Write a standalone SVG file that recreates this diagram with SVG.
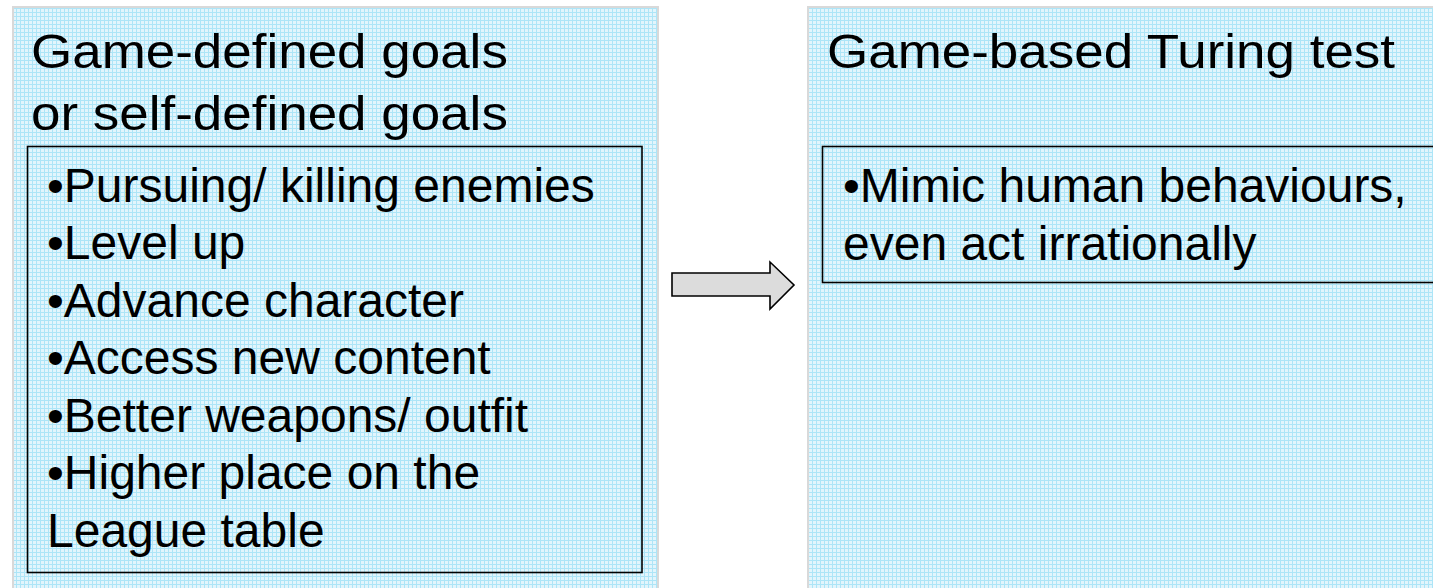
<svg xmlns="http://www.w3.org/2000/svg" width="1433" height="588" viewBox="0 0 1433 588">
<defs>
<pattern id="grid" patternUnits="userSpaceOnUse" x="0" y="0" width="4" height="4">
<rect width="4" height="4" fill="#e2f5fc"/>
<rect width="1" height="4" fill="#ade5f7"/>
<rect width="4" height="1" fill="#ade5f7"/>
</pattern>
<style>
.panel{fill:url(#grid);stroke:#d9d9d9;stroke-width:2}
.box{fill:none;stroke:#000;stroke-width:1.6}
.t{font-family:"Liberation Sans",Arial,sans-serif;fill:#000}
.title{font-size:47.5px}
.b{font-size:48px}
.arrow{fill:#dcdcdc;stroke:#000;stroke-width:1.6;stroke-linejoin:miter}
</style>
</defs>
<rect width="1433" height="588" fill="#fff"/>
<g id="left-panel">
<rect class="panel" x="13" y="7" width="645" height="590"/>
<text class="t title" transform="translate(31,68) scale(1.115,1)">Game-defined goals</text>
<text class="t title" transform="translate(31,130) scale(1.115,1)">or self-defined goals</text>
<rect class="box" x="27.5" y="146.5" width="614.5" height="426"/>
<text class="t b" x="47" y="201.7">•Pursuing/ killing enemies</text>
<text class="t b" x="47" y="259.2">•Level up</text>
<text class="t b" x="47" y="316.7">•Advance character</text>
<text class="t b" x="47" y="374.2">•Access new content</text>
<text class="t b" x="47" y="431.7">•Better weapons/ outfit</text>
<text class="t b" x="47" y="489.2">•Higher place on the</text>
<text class="t b" x="47" y="546.7">League table</text>
</g>
<g id="right-panel">
<rect class="panel" x="808" y="7" width="640" height="590"/>
<text class="t title" transform="translate(827,67.5) scale(1.115,1)">Game-based Turing test</text>
<rect class="box" x="822.5" y="146.5" width="620" height="136"/>
<text class="t b" x="843" y="201.7">•Mimic human behaviours,</text>
<text class="t b" x="843" y="260">even act irrationally</text>
</g>
<g id="connectors">
<polygon class="arrow" points="672,273 770,273 770,262 794,285 770,309 770,296 672,296"/>
</g>
</svg>
